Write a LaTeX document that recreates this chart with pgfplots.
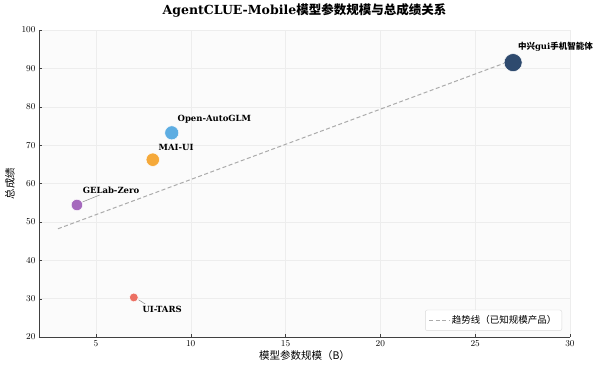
\documentclass[border=0pt]{standalone}
\usepackage{pgfplots}
\pgfplotsset{compat=1.18}
\usepackage{fontspec}
\setmainfont{DejaVu Serif}
\newfontfamily\cjk{Noto Sans CJK SC}
\definecolor{cZTE}{HTML}{2E4A6E}
\definecolor{cOAG}{HTML}{5DADE2}
\definecolor{cMAI}{HTML}{F5A93A}
\definecolor{cGEL}{HTML}{A569BD}
\definecolor{cUIT}{HTML}{EC7063}
\definecolor{gridc}{HTML}{EDEDED}
\begin{document}
\begin{tikzpicture}
\begin{axis}[
  scale only axis,
  width=531pt, height=307pt,
  xmin=2, xmax=30, ymin=20, ymax=100,
  clip mode=individual,
  xtick={5,10,15,20,25,30},
  ytick={20,30,40,50,60,70,80,90,100},
  axis x line*=bottom, axis y line*=left,
  axis line style={black!75, line width=0.8pt},
  tick style={black!75},
  tick label style={font=\fontsize{9}{10}\selectfont},
  major tick length=3pt,
  grid=major,
  major grid style={gridc, line width=0.4pt},
  axis background/.style={fill=black!1.5},
  xlabel={{\cjk 模型参数规模（B）}},
  ylabel={{\cjk 总成绩}},
  label style={font=\fontsize{10.5}{12}\selectfont},
  xlabel style={yshift=3pt},
  ylabel style={yshift=0pt},
  title={\textbf{AgentCLUE-Mobile}{\cjk\bfseries 模型参数规模与总成绩关系}},
  title style={font=\fontsize{12.5}{14}\selectfont, yshift=3pt},
  legend style={at={(0.985,0.02)}, anchor=south east, draw=black!15, rounded corners=2pt,
    fill=white, font=\fontsize{9.5}{11}\selectfont, inner sep=3.5pt},
  legend cell align=left,
  legend image code/.code={\draw[#1] (0pt,0pt) -- (20pt,0pt);},
]
\addplot[black!33, dash pattern=on 4pt off 2.5pt, line width=1pt] coordinates {(3,48.2) (27,92.2)};
\addlegendentry{{\cjk 趋势线（已知规模产品）}}
\addplot[only marks, mark=*, mark size=9pt, mark options={fill=cZTE, draw=white, line width=0.5pt}, forget plot] coordinates {(27,91.5)};
\addplot[only marks, mark=*, mark size=7pt, mark options={fill=cOAG, draw=white, line width=0.5pt}, forget plot] coordinates {(9,73.2)};
\addplot[only marks, mark=*, mark size=6.7pt, mark options={fill=cMAI, draw=white, line width=0.5pt}, forget plot] coordinates {(8,66.2)};
\addplot[only marks, mark=*, mark size=5.7pt, mark options={fill=cGEL, draw=white, line width=0.5pt}, forget plot] coordinates {(4,54.4)};
\addplot[only marks, mark=*, mark size=4.4pt, mark options={fill=cUIT, draw=white, line width=0.5pt}, forget plot] coordinates {(7,30.3)};
\draw[black!45, line width=0.5pt] (axis cs:4.3,55.2) -- (axis cs:5.2,57.0);
\draw[black!45, line width=0.5pt] (axis cs:7.25,29.7) -- (axis cs:7.6,28.6);
\begin{scope}[every node/.style={font=\bfseries\fontsize{8.5}{10}\selectfont, anchor=west, inner sep=0pt}]
\node at (axis cs:27.25,95.6) {{\cjk\bfseries 中兴}gui{\cjk\bfseries 手机智能体}};
\node at (axis cs:9.3,76.8) {Open-AutoGLM};
\node at (axis cs:8.3,69.5) {MAI-UI};
\node at (axis cs:4.3,58.3) {GELab-Zero};
\node at (axis cs:7.45,27.3) {UI-TARS};
\end{scope}
\end{axis}
\path (current axis.south west) ++(-39pt,-33pt) coordinate (bbA);
\path (current axis.north east) ++(30pt,30pt) coordinate (bbB);
\path (bbA) rectangle (bbB);
\end{tikzpicture}
\end{document}
